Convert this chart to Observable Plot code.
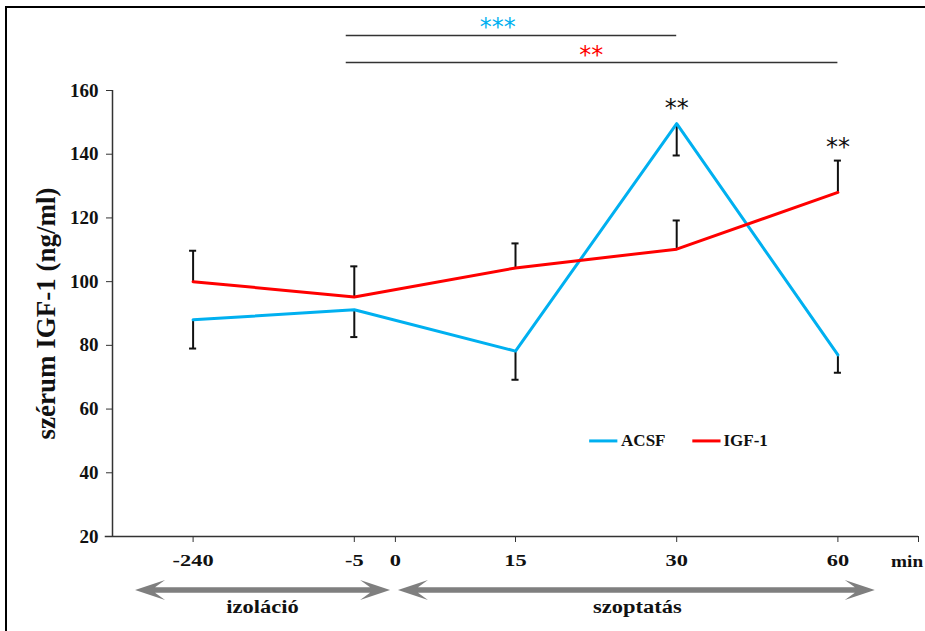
<!DOCTYPE html>
<html>
<head>
<meta charset="utf-8">
<script src="https://cdn.jsdelivr.net/npm/d3@7"></script>
<script src="https://cdn.jsdelivr.net/npm/@observablehq/plot@0.6"></script>
<style>
  html, body { margin: 0; padding: 0; background: #fff; overflow: hidden; }
  #wrap { position: relative; width: 925px; height: 631px; }
  #frame { position: absolute; left: 5px; top: 6px; width: 1000px; height: 1000px; border: 2.5px solid #000; pointer-events: none; }
  svg { display: block; }
</style>
</head>
<body>
<div id="wrap"><div id="chart"></div><div id="frame"></div></div>
<script>
// ---- data ----
const times = ["-240", "-5", "15", "30", "60"];
const acsf = [88, 91.2, 78.2, 149.6, 77];
const acsfLow = [79, 82.6, 69.2, 139.6, 71.4];
const igf = [100, 95.2, 104.3, 110.2, 128];
const igfHigh = [109.7, 104.8, 112, 119.2, 138];
const yTicks = [20, 40, 60, 80, 100, 120, 140, 160];
const xTickLabels = ["-240", "-5", "0", "15", "30", "60"];
const xTickPos = [0, 1, 1.255, 2, 3, 4];
const unitLabel = "min";
const seriesNames = ["ACSF", "IGF-1"];
const seriesColors = ["#00B0F0", "#FF0000"];
const pointStars = [{i: 3, y: 155.6, t: "**"}, {i: 4, y: 143.3, t: "**"}];
const sigBars = [
  {from: 0.95, to: 3, y: 177.3, label: "***", lx: 1.89, ly: 181.2, color: "#00B0F0"},
  {from: 0.95, to: 4, y: 168.8, label: "**", lx: 2.47, ly: 172.3, color: "#FF0000"}
];
const phases = [
  {name: "izoláció", from: -0.357, to: 1.225, mid: 0.43},
  {name: "szoptatás", from: 1.274, to: 4.232, mid: 2.756}
];

const rows = [];
times.forEach((t, i) => {
  rows.push({i, series: "ACSF", v: acsf[i], e: acsfLow[i]});
  rows.push({i, series: "IGF-1", v: igf[i], e: igfHigh[i]});
});

const serif = "'Liberation Serif', 'Times New Roman', serif";
const capW = 0.022;

const plot = Plot.plot({
  width: 925,
  height: 631,
  marginLeft: 112,
  marginRight: 7,
  marginTop: 90,
  marginBottom: 95,
  style: {fontFamily: serif, background: "transparent", overflow: "visible", color: "#111"},
  x: {domain: [-0.5, 4.5], axis: null},
  y: {domain: [20, 160], axis: null},
  color: {domain: seriesNames, range: seriesColors},
  marks: [
    // y axis
    Plot.axisY({ticks: yTicks, tickSize: 6, tickPadding: 8, fontSize: 19, fontWeight: "bold", label: null, stroke: "#333"}),
    Plot.ruleX([-0.5], {y1: 20, y2: 160, stroke: "#333", strokeWidth: 1.5}),
    Plot.text(["szérum IGF-1 (ng/ml)"], {x: -0.91, y: 90, text: d => d, rotate: -90, fontSize: 27, fontWeight: "bold", fill: "#111"}),
    // x axis
    Plot.ruleY([20], {x1: -0.545, x2: 4.5, stroke: "#333", strokeWidth: 1.5}),
    Plot.axisX(xTickPos, {tickSize: 6, tickPadding: 12, fontSize: 16, fontWeight: "bold", label: null, stroke: "#333",
      tickFormat: d => xTickLabels[xTickPos.indexOf(d)]}),
    Plot.axisX([4.5], {tickSize: 6, tickFormat: () => "", label: null, stroke: "#333"}),
    Plot.text([unitLabel], {x: 4.33, y: 20, text: d => d, dy: 25, textAnchor: "start", fontSize: 16, fontWeight: "bold", fill: "#111"}),
    // error bars
    Plot.ruleX(rows, {x: "i", y1: "v", y2: "e", stroke: "#111", strokeWidth: 2}),
    Plot.ruleY(rows, {y: "e", x1: d => d.i - capW, x2: d => d.i + capW, stroke: "#111", strokeWidth: 2}),
    // lines
    Plot.line(rows, {x: "i", y: "v", z: "series", stroke: "series", strokeWidth: 3}),
    // stars over points
    Plot.text(pointStars, {x: "i", y: "y", text: "t", fontSize: 24, fontFamily: "DejaVu Sans", fill: "#111", dy: 4}),
    // significance bars
    Plot.ruleY(sigBars, {y: "y", x1: "from", x2: "to", stroke: "#333", strokeWidth: 1.5}),
    Plot.text(sigBars, {x: "lx", y: "ly", text: "label", fill: "color", fontSize: 24, fontFamily: "DejaVu Sans", dy: 4}),
    // legend
    Plot.ruleY([0, 1], {y: 50, x1: i => [2.46, 3.1][i], x2: i => [2.635, 3.275][i], stroke: i => seriesNames[i], strokeWidth: 3}),
    Plot.text([0, 1], {y: 50, x: i => [2.655, 3.29][i], text: i => seriesNames[i], textAnchor: "start", fontSize: 17, fontWeight: "bold", fill: "#111"}),
    // phase labels
    Plot.text(phases, {x: "mid", y: -2.2, text: "name", fontSize: 18, fontWeight: "bold", fill: "#111"})
  ]
});

document.getElementById("chart").appendChild(plot);

// horizontal stretch of the wide bold labels below the x axis, as in the reference
const stretchMap = new Map([...xTickLabels.map(d => [d, 1.4]), [unitLabel, 1.2], ...phases.map(p => [p.name, 1.25])]);
const NS = "http://www.w3.org/2000/svg";
const targets = [];
d3.select(plot).selectAll("text").each(function() {
  const s = stretchMap.get(this.textContent);
  if (!s) return;
  const r = this.getBoundingClientRect();
  if (r.top + r.height / 2 < 545) return; // leave y-axis labels alone
  targets.push([this, s]);
});
targets.forEach(([node, s]) => {
  const g = document.createElementNS(NS, "g");
  node.parentNode.insertBefore(g, node);
  g.appendChild(node);
  const b = g.getBBox();
  const anchor = getComputedStyle(node).textAnchor;
  const ax = anchor === "start" ? b.x : anchor === "end" ? b.x + b.width : b.x + b.width / 2;
  g.setAttribute("transform", `translate(${ax},0) scale(${s},1) translate(${-ax},0)`);
});

// phase arrows drawn through the plot's scales
const sx = plot.scale("x"), sy = plot.scale("y");
const svg = d3.select(plot);
const yArrow = sy.apply(3.05);
const headL = 30, notch = 20, headH = 10, shaft = 2.8;
phases.forEach(p => {
  const x1 = sx.apply(p.from), x2 = sx.apply(p.to);
  const pts = [
    [x1, yArrow], [x1 + headL, yArrow - headH], [x1 + notch, yArrow - shaft],
    [x2 - notch, yArrow - shaft], [x2 - headL, yArrow - headH], [x2, yArrow],
    [x2 - headL, yArrow + headH], [x2 - notch, yArrow + shaft], [x1 + notch, yArrow + shaft],
    [x1 + headL, yArrow + headH]
  ];
  svg.append("path").attr("d", "M" + pts.map(q => q.join(",")).join("L") + "Z").attr("fill", "#7f7f7f");
});
</script>
</body>
</html>
